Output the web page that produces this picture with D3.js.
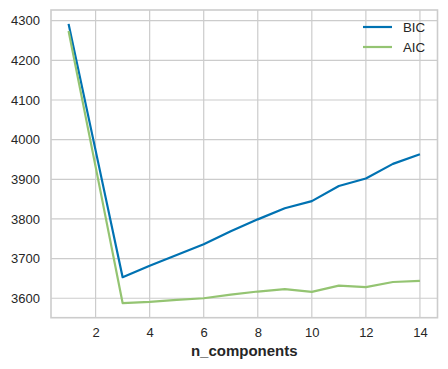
<!DOCTYPE html>
<html><head><meta charset="utf-8">
<script src="https://cdn.jsdelivr.net/npm/d3@7"></script>
<style>body{margin:0;background:#fff}svg{display:block}text{font-family:"Liberation Sans",Arial,sans-serif;fill:#262626}</style>
</head><body><svg id="c" width="448" height="369"></svg>
<script>
const nComponents = [1,2,3,4,5,6,7,8,9,10,11,12,13,14];
const bic = [4292,3973,3653,3682,3709,3736,3769,3799,3827,3845,3883,3902,3939,3963];
const aic = [4274,3932,3588,3591,3596,3600,3609,3617,3623,3616,3632,3628,3641,3644];
const xTicks = [2,4,6,8,10,12,14];
const yTicks = [3600,3700,3800,3900,4000,4100,4200,4300];
const seriesNames = ["BIC","AIC"];
const colors = ["#0072B2","#94c472"];

const svg = d3.select("#c");
const L=51, R=437.5, T=10, B=317.7;
const x = d3.scaleLinear().domain([0.35,14.65]).range([L,R]);
const y = d3.scaleLinear().domain([3551,4327]).range([B,T]);

const g = svg.append("g");
// grid
g.selectAll(".gx").data(xTicks).join("line")
 .attr("x1",d=>x(d)).attr("x2",d=>x(d)).attr("y1",T).attr("y2",B)
 .attr("stroke","#cccccc").attr("stroke-width",1.2);
g.selectAll(".gy").data(yTicks).join("line")
 .attr("y1",d=>y(d)).attr("y2",d=>y(d)).attr("x1",L).attr("x2",R)
 .attr("stroke","#cccccc").attr("stroke-width",1.2);

// axes labels via d3 axes
const xAxis = svg.append("g").attr("transform",`translate(0,${B})`)
 .call(d3.axisBottom(x).tickValues(xTicks).tickSize(0).tickPadding(10).tickFormat(d3.format("d")));
const yAxis = svg.append("g").attr("transform",`translate(${L},0)`)
 .call(d3.axisLeft(y).tickValues(yTicks).tickSize(0).tickPadding(11).tickFormat(d3.format("d")));
[xAxis,yAxis].forEach(a=>{a.select(".domain").remove();a.selectAll("text").attr("font-size",13).attr("fill","#262626").attr("font-family","'Liberation Sans',Arial,sans-serif");});

// frame
svg.append("rect").attr("x",L).attr("y",T).attr("width",R-L).attr("height",B-T)
 .attr("fill","none").attr("stroke","#cccccc").attr("stroke-width",1.6);

// lines
const data=[bic,aic];
const line = d3.line().x((d,i)=>x(nComponents[i])).y(d=>y(d));
data.forEach((s,k)=>{
  svg.append("path").datum(s).attr("d",line).attr("fill","none")
   .attr("stroke",colors[k]).attr("stroke-width",2.2).attr("stroke-linejoin","round");
});

// legend
const lg = svg.append("g");
seriesNames.forEach((n,k)=>{
  const yy = 27 + k*20;
  lg.append("line").attr("x1",363).attr("x2",392).attr("y1",yy).attr("y2",yy)
    .attr("stroke",colors[k]).attr("stroke-width",2.2);
  lg.append("text").attr("x",403).attr("y",yy).attr("dy","0.35em").attr("font-size",13.3).text(n);
});

// x label
svg.append("text").attr("x",(L+R)/2).attr("y",351).attr("dy","0.35em").attr("text-anchor","middle")
 .attr("font-size",15).attr("font-weight","bold").text("n_components");
</script></body></html>
